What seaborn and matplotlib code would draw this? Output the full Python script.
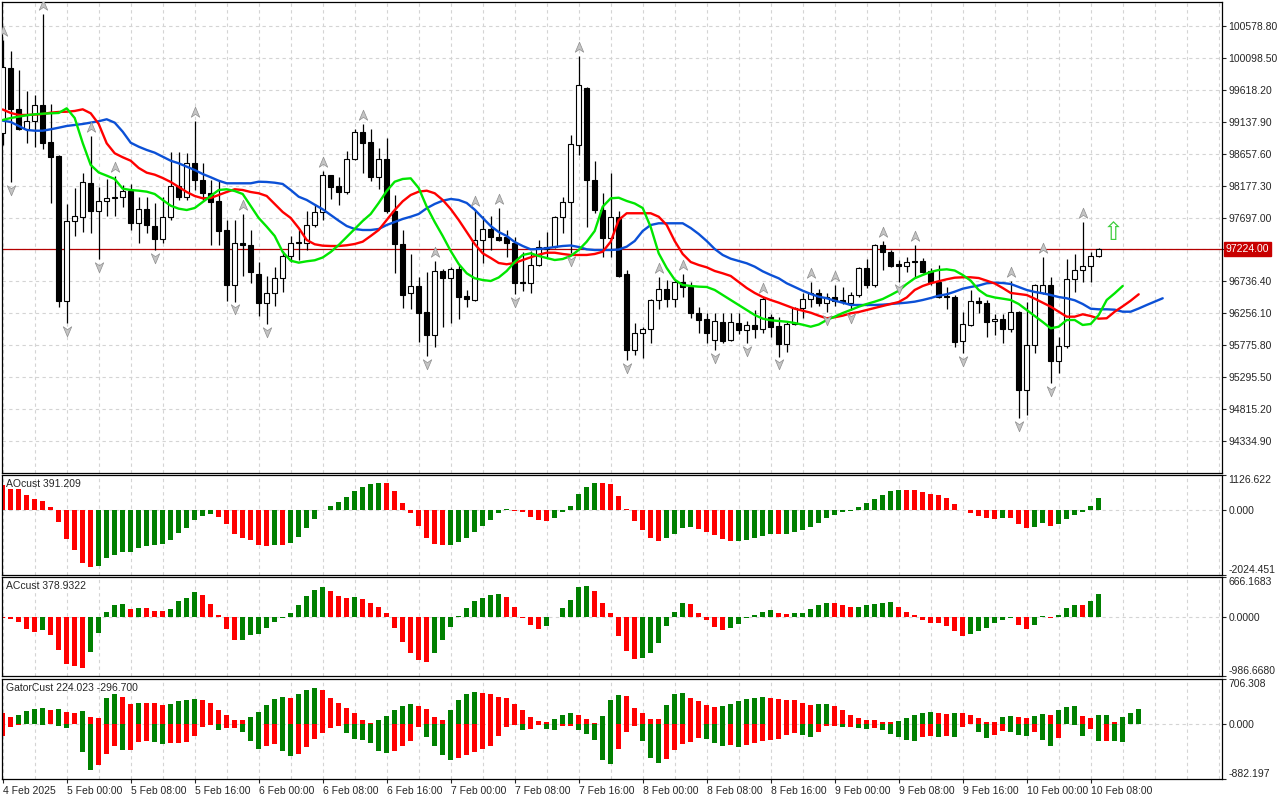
import matplotlib
matplotlib.use("Agg")
import matplotlib.pyplot as plt
from matplotlib.path import Path
import numpy as np
import seaborn as sns

# BTCUSD H1 bars, 4 Feb 2025 16:00 .. 10 Feb 2025 09:00
opens = [98975, 99949, 99327, 99026, 99147, 99387, 98835, 98625, 96445, 97641,
         97711, 98222, 97801, 97942, 97992, 98002, 98101, 97620, 97822, 97571,
         97370, 97701, 98173, 98011, 98524, 98263, 98072, 97942, 97510, 96682,
         97319, 97284, 96848, 96406, 96557, 96783, 97119, 97307, 97310, 97581,
         97781, 98334, 98173, 98087, 98575, 98986, 98835, 98313, 98575, 97801,
         97299, 96557, 96667, 96275, 95934, 96888, 96783, 96918, 96517, 96456,
         97360, 97530, 97410, 97400, 97310, 96732, 96708, 96979, 97220, 97250,
         97701, 97927, 98785, 99644, 98263, 97811, 97385, 97711, 96848, 95703,
         95964, 96015, 96456, 96626, 96476, 96727, 96656, 96265, 96175, 95854,
         96130, 95854, 96114, 96004, 96080, 96015, 96205, 96065, 95794, 96095,
         96336, 96467, 96557, 96416, 96506, 96456, 96416, 96536, 96938, 96682,
         97280, 97184, 96994, 96964, 97048, 97048, 96893, 96732, 96517, 96506,
         95834, 96075, 96437, 96406, 96136, 96166, 96015, 96275, 95101, 95774,
         96557, 96677, 95542, 95764, 96768, 96908, 96968, 97119]
highs = [100371, 100209, 99919, 99607, 99547, 100762, 99407, 98640, 97902, 98143,
         98364, 98926, 98162, 98273, 98323, 98192, 98203, 98002, 98011, 97912,
         98011, 98685, 98685, 98665, 99147, 98519, 98263, 98263, 97661, 97661,
         97751, 97510, 97024, 96818, 96948, 97198, 97420, 97510, 97801, 97902,
         98404, 98340, 98313, 98695, 99026, 99106, 99026, 98745, 98895, 98037,
         97510, 97149, 96798, 96878, 97039, 96918, 96948, 96979, 96607, 97811,
         97721, 97721, 97836, 97510, 97410, 97184, 97190, 97360, 97480, 97721,
         98002, 98940, 100130, 99660, 98545, 98067, 98368, 97801, 96908, 96105,
         96054, 96470, 96807, 96757, 96750, 96848, 96727, 96355, 96256, 96256,
         96256, 96256, 96256, 96145, 96306, 96501, 96245, 96205, 96130, 96355,
         96557, 96727, 96626, 96557, 96682, 96647, 96577, 96958, 97078, 97299,
         97344, 97209, 97058, 97099, 97280, 97089, 96938, 96983, 96657, 96531,
         96280, 96607, 96506, 96456, 96245, 96245, 96747, 96290, 96422, 96697,
         97108, 96798, 95904, 97069, 97149, 97635, 97184, 97235]
lows = [98790, 98226, 99010, 98815, 98755, 98725, 97912, 96355, 96105, 97420,
        97480, 97465, 97069, 97721, 97721, 97861, 97510, 97319, 97460, 97209,
        97319, 97661, 97962, 97962, 98112, 97962, 97284, 97284, 96445, 96430,
        96818, 96717, 96215, 96095, 96365, 96581, 97033, 97058, 97209, 97555,
        97661, 97972, 97887, 98052, 98564, 98364, 98253, 98123, 97762, 96867,
        96335, 96325, 95828, 95613, 95744, 96045, 96115, 96165, 96355, 96445,
        97018, 97209, 97345, 97099, 96546, 96596, 96566, 96968, 97099, 97239,
        97470, 97164, 98644, 97560, 97766, 97108, 97108, 96800, 95553, 95628,
        95579, 95804, 96316, 96355, 96355, 96497, 96181, 95955, 95813, 95703,
        95804, 95845, 95944, 95804, 95879, 95964, 95904, 95603, 95678, 96085,
        96181, 96355, 96366, 96276, 96366, 96396, 96306, 96506, 96637, 96647,
        96908, 96958, 96732, 96882, 96787, 96867, 96682, 96482, 96316, 95753,
        95654, 96060, 96256, 95895, 95925, 95813, 95979, 94680, 94720, 95663,
        96540, 95202, 95353, 95729, 96581, 96732, 96732, 97110]
closes = [99969, 99331, 99026, 99147, 99387, 98825, 98605, 96445, 97641, 97721,
          98233, 97801, 97942, 97992, 98007, 98101, 97620, 97822, 97581, 97370,
          97701, 98173, 98011, 98524, 98263, 98063, 97932, 97500, 96682, 97319,
          97280, 96882, 96406, 96557, 96783, 97119, 97310, 97322, 97581, 97781,
          98334, 98162, 98087, 98575, 98986, 98825, 98313, 98575, 97801, 97299,
          96536, 96667, 96265, 95934, 96888, 96783, 96918, 96506, 96467, 97360,
          97530, 97410, 97360, 97310, 96717, 96708, 96979, 97250, 97250, 97711,
          97927, 98805, 99689, 98263, 97811, 97385, 97711, 96818, 95703, 95964,
          96015, 96456, 96626, 96476, 96727, 96656, 96265, 96155, 95955, 96145,
          95843, 96125, 96004, 96080, 96015, 96467, 96054, 95794, 96090, 96336,
          96467, 96557, 96416, 96506, 96446, 96426, 96536, 96938, 96682, 97280,
          97184, 96973, 96964, 97024, 97028, 96882, 96732, 96506, 96497, 95828,
          96095, 96437, 96406, 96130, 96166, 96015, 96275, 95101, 95779, 96677,
          96677, 95542, 95764, 96768, 96908, 96968, 97119, 97224]

# alligator lines as drawn (already shifted forward 8 / 5 / 3 bars)
jaw = [99156, 99136, 99076, 99016, 99005, 99005, 99026, 99050, 99076, 99091,
       99106, 99126, 99147, 99177, 99126, 98990, 98824, 98764, 98715, 98674,
       98614, 98553, 98514, 98463, 98413, 98353, 98304, 98252, 98213, 98213,
       98213, 98213, 98237, 98233, 98222, 98203, 98112, 98011, 97962, 97891,
       97822, 97736, 97650, 97570, 97525, 97510, 97510, 97525, 97585, 97631,
       97676, 97710, 97751, 97837, 97902, 97951, 97977, 97962, 97917, 97816,
       97691, 97570, 97480, 97420, 97329, 97269, 97219, 97224, 97235, 97254,
       97269, 97277, 97254, 97219, 97209, 97209, 97209, 97216, 97259, 97344,
       97495, 97585, 97611, 97611, 97611, 97611, 97540, 97450, 97344, 97224,
       97134, 97078, 97043, 97009, 96958, 96888, 96833, 96783, 96708, 96652,
       96596, 96547, 96506, 96482, 96446, 96416, 96381, 96381, 96381, 96381,
       96386, 96396, 96406, 96416, 96431, 96456, 96486, 96521, 96542, 96581,
       96626, 96652, 96674, 96708, 96717, 96712, 96697, 96652, 96607, 96577,
       96557, 96531, 96501, 96482, 96452, 96396, 96325, 96316, 96316, 96310,
       96280, 96280, 96328, 96381, 96431, 96482]
teeth = [99324, 99272, 99242, 99242, 99247, 99257, 99276, 99287, 99291, 99302,
         99327, 99267, 99106, 98815, 98665, 98605, 98553, 98444, 98373, 98343,
         98293, 98233, 98157, 98082, 98022, 97987, 97992, 98037, 98082, 98123,
         98112, 98082, 98063, 98022, 97902, 97781, 97691, 97540, 97360, 97295,
         97274, 97269, 97269, 97280, 97299, 97334, 97420, 97510, 97661, 97811,
         97942, 98037, 98087, 98102, 98063, 97962, 97826, 97661, 97480, 97299,
         97159, 97089, 97013, 96994, 97013, 97058, 97099, 97138, 97168, 97168,
         97149, 97134, 97134, 97134, 97149, 97183, 97334, 97661, 97762, 97762,
         97762, 97762, 97710, 97585, 97344, 97149, 97028, 96983, 96948, 96893,
         96858, 96818, 96727, 96637, 96562, 96501, 96456, 96416, 96370, 96325,
         96295, 96265, 96220, 96181, 96196, 96220, 96256, 96275, 96306, 96336,
         96366, 96396, 96426, 96494, 96607, 96667, 96708, 96738, 96768, 96792,
         96798, 96798, 96787, 96747, 96705, 96637, 96562, 96547, 96531, 96476,
         96416, 96355, 96280, 96205, 96205, 96241, 96215, 96175, 96181, 96280,
         96361, 96446, 96542]
lips = [99166, 99196, 99216, 99237, 99252, 99261, 99267, 99272, 99342, 99196,
        98820, 98489, 98376, 98328, 98278, 98132, 98112, 98102, 98087, 98052,
        97962, 97876, 97831, 97811, 97841, 97932, 98022, 98112, 98123, 98097,
        98052, 97871, 97691, 97560, 97420, 97179, 97048, 97018, 97039, 97054,
        97096, 97179, 97284, 97405, 97525, 97646, 97751, 97917, 98097, 98237,
        98278, 98288, 98142, 97861, 97631, 97420, 97194, 96998, 96858, 96783,
        96757, 96742, 96795, 96893, 97028, 97134, 97159, 97119, 97089, 97058,
        97073, 97119, 97209, 97334, 97495, 97861, 97987, 97996, 97947, 97909,
        97841, 97555, 97159, 96938, 96762, 96682, 96667, 96657, 96652, 96607,
        96531, 96456, 96381, 96306, 96230, 96175, 96151, 96140, 96129, 96110,
        96084, 96054, 96087, 96155, 96205, 96260, 96306, 96355, 96396, 96431,
        96471, 96531, 96596, 96697, 96783, 96833, 96878, 96908, 96918, 96900,
        96833, 96747, 96607, 96524, 96494, 96476, 96456, 96396, 96306, 96215,
        96125, 96030, 96054, 96155, 96155, 96080, 96095, 96230, 96456, 96557,
        96667]

# bar indices carrying a fractal
fractal_up = [0, 5, 11, 14, 24, 30, 40, 45, 54, 59, 62, 72, 82, 85, 95, 101,
              104, 110, 114, 126, 130, 135]
fractal_down = [1, 8, 12, 19, 29, 33, 53, 64, 71, 78, 89, 93, 97, 103, 106,
                112, 120, 127, 131]

ao = [804, 675, 670, 482, 354, 289, 96, -375, -890, -1254,
      -1661, -1768, -1736, -1511, -1404, -1318, -1297, -1190, -1125, -1082,
      -1061, -932, -697, -547, -289, -161, -118, -214, -440, -740,
      -868, -932, -1093, -1125, -1082, -1090, -1018, -825, -568, -280,
      10, 135, 268, 418, 611, 750, 847, 870, 865, 611,
      250, -75, -482, -857, -1061, -1100, -1090, -997, -857, -675,
      -482, -289, -86, 32, -10, -54, -193, -289, -322, -225,
      -54, 129, 514, 740, 868, 865, 836, 450, 32, -322,
      -611, -868, -965, -868, -740, -547, -514, -579, -675, -772,
      -900, -965, -960, -932, -868, -804, -735, -750, -740, -675,
      -611, -514, -386, -225, -129, -54, -10, 96, 225, 354,
      482, 611, 645, 643, 640, 579, 514, 482, 386, 193,
      10, -86, -161, -225, -257, -225, -230, -418, -547, -514,
      -386, -482, -418, -257, -129, -64, 129, 391.209]
ao_before = 850
ac = [-10, -28, -84, -195, -250, -217, -300, -551, -785, -818,
      -852, -585, -267, 84, 200, 217, 139, 156, 150, 100,
      95, 139, 267, 317, 418, 367, 217, 33, -200, -384,
      -380, -300, -284, -184, -84, -17, 67, 200, 351, 451,
      501, 434, 351, 317, 334, 301, 234, 167, 67, -180,
      -415, -600, -715, -746, -596, -379, -161, 17, 150, 267,
      317, 367, 384, 334, 167, -11, -128, -195, -145, 3,
      150, 284, 501, 518, 434, 234, 67, -312, -562, -696,
      -679, -596, -429, -145, 84, 234, 217, 67, -56, -161,
      -212, -178, -111, -22, 33, 84, 117, 67, 50, 67,
      70, 134, 200, 234, 230, 200, 167, 170, 200, 217,
      234, 250, 167, 84, 33, -50, -100, -103, -150, -234,
      -317, -284, -234, -184, -100, -50, -17, -134, -200, -134,
      11, -11, 28, 150, 200, 195, 267, 378.9322]
ac_before = 0
gator_up = [175, 111, 143, 207, 239, 254, 223, 239, 191, 175,
            207, 111, 95, 398, 461, 429, 318, 334, 334, 334,
            302, 318, 350, 366, 382, 366, 334, 223, 143, 64,
            64, 111, 191, 302, 382, 429, 413, 461, 525, 556,
            525, 413, 334, 254, 175, 64, 5, 64, 127, 223,
            286, 318, 286, 239, 111, 64, 223, 366, 461, 493,
            477, 461, 429, 413, 318, 223, 111, 48, 32, 80,
            143, 175, 143, 80, 16, 127, 366, 445, 440, 254,
            175, 80, 78, 302, 461, 477, 413, 350, 302, 270,
            286, 318, 350, 382, 413, 415, 410, 382, 380, 366,
            334, 302, 305, 318, 286, 223, 143, 95, 64, 62,
            32, 30, 34, 95, 143, 175, 176, 175, 159, 175,
            172, 143, 95, 32, 30, 111, 127, 111, 95, 127,
            159, 143, 223, 270, 272, 127, 95, 143, 144, 32,
            111, 175, 224.023]
gator_up_before = 200
gator_down = [-196, -58, -20, -10, -10, -27, -10, -42, -74, -5,
              -456, -742, -663, -488, -360, -424, -413, -297, -281, -297,
              -329, -313, -313, -297, -201, -58, -27, -106, -74, -74,
              -138, -281, -408, -360, -329, -440, -519, -488, -376, -249,
              -154, -74, -42, -154, -249, -265, -313, -440, -472, -440,
              -360, -281, -58, -217, -360, -504, -583, -551, -504, -456,
              -408, -360, -201, -58, -27, -106, -90, -27, -90, -106,
              -42, -42, -106, -170, -265, -583, -647, -408, -138, -42,
              -281, -551, -631, -567, -424, -329, -297, -233, -249, -313,
              -360, -344, -376, -344, -313, -281, -265, -249, -186, -154,
              -186, -217, -138, -42, -42, -58, -58, -74, -90, -74,
              -106, -170, -217, -265, -281, -217, -201, -217, -201, -217,
              -58, -3, -138, -233, -186, -122, -138, -186, -201, -138,
              -265, -360, -233, -10, -27, -201, -90, -281, -281, -283,
              -296.7]
gator_down_before = -250

time_labels = ["4 Feb 2025", "5 Feb 00:00", "5 Feb 08:00", "5 Feb 16:00",
               "6 Feb 00:00", "6 Feb 08:00", "6 Feb 16:00", "7 Feb 00:00",
               "7 Feb 08:00", "7 Feb 16:00", "8 Feb 00:00", "8 Feb 08:00",
               "8 Feb 16:00", "9 Feb 00:00", "9 Feb 08:00", "9 Feb 16:00",
               "10 Feb 00:00", "10 Feb 08:00"]
price_ticks = [100578.80, 100098.50, 99618.20, 99137.90, 98657.60, 98177.30,
               97697.00, 97216.70, 96736.40, 96256.10, 95775.80, 95295.50,
               94815.20, 94334.90]
last_price = 97224.00
ao_range = (-2024.451, 1126.622)
ac_range = (-986.6680, 666.1683)
gator_range = (-882.197, 706.308)

sns.set_style("white")
plt.rcParams["font.family"] = ["Liberation Sans", "DejaVu Sans"]
FS = 7.5
GRID = "#d4d4d4"
GREEN, RED = "#008000", "#ff0000"

W, H = 1280, 800
fig = plt.figure(figsize=(W / 100, H / 100), dpi=100)


def panel(top, bottom):
    a = fig.add_axes([1.7 / W, 1 - bottom / H, 1220 / W, (bottom - top) / H])
    a.set_xlim(-0.125, 152.375)
    for s in a.spines.values():
        s.set_color("black")
        s.set_linewidth(0.9)
    for k in range(0, 153, 4):
        a.axvline(k, color=GRID, lw=0.8, ls=(0, (3, 3)), zorder=0)
    a.yaxis.tick_right()
    a.tick_params(axis="y", direction="out", length=3, width=0.8, pad=2,
                  labelsize=FS, right=True, left=False)
    a.tick_params(axis="x", bottom=False, labelbottom=False)
    return a


ax = panel(1.7, 473.3)
ax_ao = panel(474.7, 574.7)
ax_ac = panel(577.0, 676.0)
ax_gt = panel(679.0, 779.3)

# ---- price panel ----
o, h, l, c = (np.array(v, dtype=float) for v in (opens, highs, lows, closes))
idx = np.arange(len(c))
ax.set_ylim(93847, 100947)
for p in price_ticks:
    ax.axhline(p, color=GRID, lw=0.8, ls=(0, (3, 3)), zorder=0)
ax.axhline(last_price, color="#b40000", lw=0.9, zorder=1)

ax.vlines(idx, l, h, color="black", lw=0.9, zorder=2)
ax.bar(idx, np.maximum(np.abs(c - o), 8), bottom=np.minimum(o, c), width=0.66,
       color=np.where(c >= o, "white", "black"), edgecolor="black", lw=0.8,
       zorder=3)

for vals, col in ((jaw, "#0b50d6"), (teeth, "#ff0000"), (lips, "#00e600")):
    sns.lineplot(x=np.arange(len(vals)), y=vals, ax=ax, color=col, lw=1.7,
                 zorder=4)

up_arrow = Path([(0, 1), (0.8, -0.9), (0, -0.35), (-0.8, -0.9), (0, 1)],
                [Path.MOVETO, Path.LINETO, Path.LINETO, Path.LINETO, Path.CLOSEPOLY])
down_arrow = Path([(x, -y) for x, y in up_arrow.vertices], up_arrow.codes)
ax.scatter(fractal_up, h[fractal_up] + 135, marker=up_arrow, s=58,
           c="#c4c4c4", edgecolors="#8e8e8e", linewidths=0.5, zorder=5)
ax.scatter(fractal_down, l[fractal_down] - 115, marker=down_arrow, s=58,
           c="#c4c4c4", edgecolors="#8e8e8e", linewidths=0.5, zorder=5)

ax.text(len(c) + 0.85, last_price + 235, "\u21e7", color="#3ccc3c",
        fontsize=18, family=["DejaVu Sans"], ha="center", va="center", zorder=6)

ax.set_yticks(price_ticks)
ax.set_yticklabels(["" if abs(p - last_price) < 200 else f"{p:.2f}"
                    for p in price_ticks])
ax.text(1.0 + 4 / 1220, last_price, f"{last_price:.2f}", transform=ax.get_yaxis_transform(),
        color="white", fontsize=FS, ha="left", va="center", clip_on=False,
        bbox=dict(boxstyle="square,pad=0.18", fc="#c80000", ec="#c80000"))


# ---- indicator panels ----
def histogram(a, vals, before, by_abs=False):
    v = np.array(vals, dtype=float)
    prev = np.r_[before, v[:-1]]
    rising = np.abs(v) > np.abs(prev) if by_abs else v > prev
    a.bar(np.arange(len(v)), v, width=0.58, color=np.where(rising, GREEN, RED),
          lw=0, zorder=2)


def scale(a, rng, fmt):
    a.set_ylim(*rng)
    a.axhline(0, color=GRID, lw=0.8, ls=(0, (3, 3)), zorder=1)
    a.set_yticks([rng[0], 0, rng[1]])
    a.set_yticklabels([fmt.format(rng[0]), fmt.format(0), fmt.format(rng[1])])
    labs = a.get_yticklabels()
    labs[0].set_va("bottom")
    labs[2].set_va("top")


histogram(ax_ao, ao, ao_before)
scale(ax_ao, ao_range, "{:.3f}")
ax_ao.text(0.0035, 0.91, f"AOcust {ao[-1]:.3f}", transform=ax_ao.transAxes,
           fontsize=FS, va="center")

histogram(ax_ac, ac, ac_before)
scale(ax_ac, ac_range, "{:.4f}")
ax_ac.text(0.0035, 0.905, f"ACcust {ac[-1]:.4f}", transform=ax_ac.transAxes,
           fontsize=FS, va="center")

histogram(ax_gt, gator_up, gator_up_before, by_abs=True)
histogram(ax_gt, gator_down, gator_down_before, by_abs=True)
scale(ax_gt, gator_range, "{:.3f}")
ax_gt.text(0.0035, 0.91, f"GatorCust {gator_up[-1]:.3f} {gator_down[-1]:.3f}",
           transform=ax_gt.transAxes, fontsize=FS, va="center")

ax_gt.set_xticks(np.arange(0, 8 * len(time_labels), 8))
ax_gt.set_xticklabels(time_labels)
ax_gt.tick_params(axis="x", bottom=True, labelbottom=True, direction="out",
                  length=3, width=0.8, pad=1.5, labelsize=FS)
for lab in ax_gt.get_xticklabels():
    lab.set_ha("left")

fig.savefig("out.png", dpi=100, facecolor="white")
